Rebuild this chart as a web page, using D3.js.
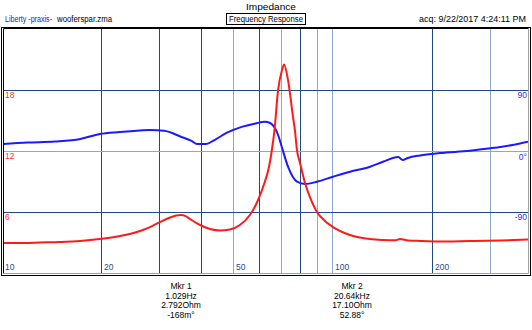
<!DOCTYPE html>
<html><head><meta charset="utf-8">
<script src="https://cdn.jsdelivr.net/npm/d3@7"></script>
<style>
html,body{margin:0;padding:0;background:#fff;}
svg{display:block;font-family:"Liberation Sans",Arial,sans-serif;}
</style></head>
<body>
<svg id="c" width="532" height="330"></svg>
<script>
// ---- data ----
const freq = [10.1,11.4,13.1,15.0,17.3,19.8,22.8,26.2,28.1,30.1,32.3,33.7,34.8,36.0,37.1,39.8,42.6,45.7,49.0,52.5,56.3,59.6,62.5,64.0,65.6,66.8,68.5,70.4,71.4,73.4,76.0,77.0,78.1,79.8,82.6,85.5,89.8,94.9,100.4,113,129.9,142.1,155,160,169.2,184,211.3,260.3,320.8,389.9];
const impedance = [2.95,2.95,3.0,3.05,3.15,3.34,3.64,4.13,4.52,5.0,5.46,5.65,5.70,5.6,5.31,4.72,4.33,4.18,4.28,4.72,5.70,7.18,9.0,10.13,12.1,14.06,18.0,19.96,20.52,18.98,15.34,14.06,12.1,10.82,8.85,7.47,6.0,5.11,4.52,3.74,3.34,3.25,3.22,3.34,3.2,3.15,3.1,3.15,3.2,3.29];
const pfreq = [10.1,12.0,14.5,17.3,19.8,22.8,26.2,28.1,31.0,34.8,37.5,39.0,41.5,44.0,48.0,53.5,58.5,62.5,64.8,67.0,68.5,70.3,73.4,78.1,82.6,89.8,100.4,113,129.9,142.1,158,163,169,184,211.3,260.3,300,350,389.9];
const phase = [10.3,12.5,14.0,17.7,25.1,28.0,30.2,31.0,30.0,21.1,14.8,10.3,10.3,16.2,27.0,35.9,40.6,43.2,41.3,33.9,23.6,5.9,-23.2,-45.3,-48.7,-45.3,-37.9,-30.5,-23.2,-15.8,-8.9,-13.3,-10.3,-6.5,-3.0,0.4,4.0,8.9,13.7];
const freqTicks = [10,20,50,100,200];
const freqGrid = [20,30,40,50,60,70,80,90,100,200,300];
const darkGrid = [20,30,40,60,80,200];
const ohmTicks = [6,12,18];
const degTicks = [-90,0,90];
const markers = [
  {lines:["Mkr 1","1.029Hz","2.792Ohm","-168m°"]},
  {lines:["Mkr 2","20.64kHz","17.10Ohm","52.88°"]}
];

// ---- layout ----
const svg = d3.select("#c");
const L = 3, R = 528, T = 29, B = 273;
const x = d3.scaleLog().domain([10.1, 389.9]).range([L, R]);
const y = d3.scaleLinear().domain([0, 24]).range([B, T]);
const yp = d3.scaleLinear().domain([-180, 180]).range([B, T]);

const dark = "#1f4a7e", light = "#8fa8c6";

function txt(xx, yy, s, opts) {
  const t = svg.append("text").attr("x",xx).attr("y",yy).attr("font-size",opts.size||8.5)
    .attr("fill",opts.fill||"#000").text(s);
  if (opts.anchor) t.attr("text-anchor",opts.anchor);
  if (opts.len) t.attr("textLength",opts.len).attr("lengthAdjust","spacingAndGlyphs");
  return t;
}

// header
txt(246, 10, "Impedance", {size:9.5, len:50});
txt(5, 21.5, "Liberty -praxis-", {fill:"#2020d0", len:47});
txt(57, 21.5, "wooferspar.zma", {len:55});
svg.append("rect").attr("x",226.5).attr("y",13.5).attr("width",79).attr("height",11)
  .attr("fill","#fff").attr("stroke","#000");
txt(229, 22, "Frequency Response", {len:74});
txt(419, 21.5, "acq: 9/22/2017 4:24:11 PM", {len:107});

// grid
const g = svg.append("g");
g.selectAll("line.v").data(freqGrid).join("line")
  .attr("x1",d=>Math.round(x(d))+0.5).attr("x2",d=>Math.round(x(d))+0.5)
  .attr("y1",T).attr("y2",B)
  .attr("stroke",d=>darkGrid.includes(d)?dark:light).attr("stroke-width",1);
g.selectAll("line.h").data(ohmTicks).join("line")
  .attr("x1",L).attr("x2",R)
  .attr("y1",d=>Math.round(y(d))+0.5).attr("y2",d=>Math.round(y(d))+0.5)
  .attr("stroke",d=>d===12?light:dark).attr("stroke-width",1);

// axis labels
svg.selectAll("text.ol").data(ohmTicks).join("text")
  .attr("x",5).attr("y",d=>y(d)+8).attr("font-size",8.5).attr("fill","#ff3030").text(d=>d);
svg.selectAll("text.dl").data(degTicks).join("text")
  .attr("x",527).attr("y",d=>yp(d)+(d===0?9:8)).attr("text-anchor","end")
  .attr("font-size",8.5).attr("fill","#3030ff").text(d=>d===0?"0°":d);
svg.selectAll("text.fl").data(freqTicks).join("text")
  .attr("x",d=>Math.round(x(d))+3).attr("y",270).attr("font-size",8.5).attr("fill","#1f4a9a").text(d=>d);

// curves
svg.append("clipPath").attr("id","pc").append("rect")
  .attr("x",L).attr("y",T).attr("width",R-L).attr("height",B-T);
const lineZ = d3.line().x((d,i)=>x(freq[i])).y(d=>y(d)).curve(d3.curveMonotoneX);
const lineP = d3.line().x((d,i)=>x(pfreq[i])).y(d=>yp(d)).curve(d3.curveMonotoneX);
svg.append("path").attr("d",lineP(phase)).attr("fill","none").attr("stroke","#1a1aff")
  .attr("stroke-width",2).attr("clip-path","url(#pc)");
svg.append("path").attr("d",lineZ(impedance)).attr("fill","none").attr("stroke","#ff1a1a")
  .attr("stroke-width",2).attr("clip-path","url(#pc)");

// frame
svg.append("rect").attr("x",1.5).attr("y",27.5).attr("width",529).attr("height",248)
  .attr("fill","none").attr("stroke","#000");
svg.append("path").attr("d",`M3.5,${B+0.5}V${T-0.5}H${R+0.5}`).attr("fill","none").attr("stroke","#000");
svg.append("path").attr("d",`M3.5,${B+0.5}H${R+0.5}V${T-0.5}`).attr("fill","none").attr("stroke","#a0a0a0");

// markers
const mx = [181, 352];
markers.forEach((m,k)=>{
  svg.selectAll(null).data(m.lines).join("text")
    .attr("x",mx[k]).attr("y",(d,i)=>289+i*9.7).attr("text-anchor","middle")
    .attr("font-size",8.5).attr("fill","#000").text(d=>d);
});
</script>
</body></html>
